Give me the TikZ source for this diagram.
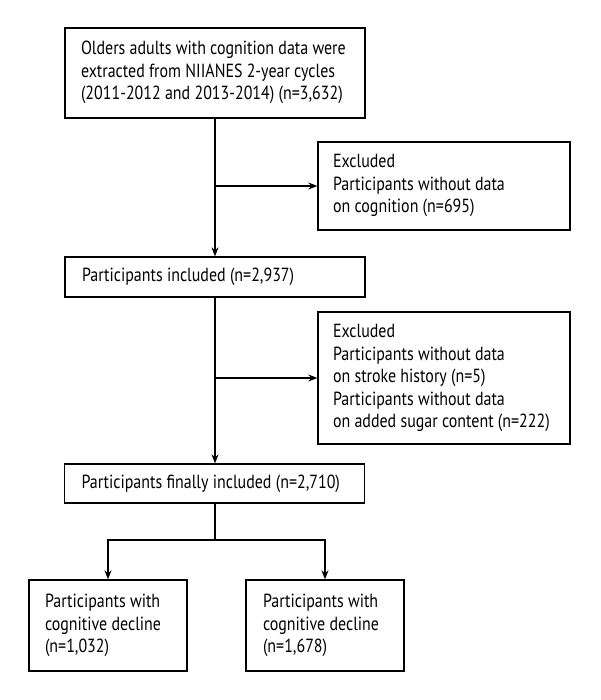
\documentclass[tikz,border=0pt]{standalone}
\usepackage{fontspec}
\usepackage{graphicx}
\setmainfont{PT Sans}
\usetikzlibrary{arrows.meta}
\newcommand\cnd[1]{\scalebox{0.84}[1]{\begin{tabular}{@{}l@{}}#1\end{tabular}}}
\newcommand\bx[3]{\makebox[#1][l]{\hspace{#2}\cnd{#3}}}
\begin{document}
\begin{tikzpicture}[x=1pt,y=-1pt,
  box/.style={draw, line width=1.3pt, rectangle, inner xsep=0pt, inner ysep=0pt,
    font=\fontsize{19}{22.5}\selectfont},
  arr/.style={line width=1.3pt, -{Stealth[length=9pt,width=7pt]}},
  ln/.style={line width=1.3pt}]
\useasboundingbox (0,0) rectangle (600,700);
\node[box, minimum width=300pt, minimum height=90pt] (top) at (215,73)
  {\bx{300pt}{16pt}{Olders adults with cognition data were\\extracted from NIIANES 2-year cycles\\(2011-2012 and 2013-2014) (n=3,632)}};
\node[box, minimum width=252pt, minimum height=88pt] (ex1) at (444,186)
  {\bx{252pt}{15pt}{Excluded\\Participants without data\\on cognition (n=695)}};
\node[box, minimum width=300pt, minimum height=40pt] (inc) at (215,277)
  {\bx{300pt}{17pt}{Participants included (n=2,937)}};
\node[box, minimum width=252pt, minimum height=132pt] (ex2) at (444,378)
  {\bx{252pt}{15pt}{Excluded\\Participants without data\\on stroke history (n=5)\\Participants without data\\on added sugar content (n=222)}};
\node[box, minimum width=300pt, minimum height=39pt] (fin) at (214.5,483.5)
  {\bx{300pt}{17pt}{Participants finally included (n=2,710)}};
\node[box, minimum width=158pt, minimum height=91pt] (bl) at (108,625.5)
  {\bx{158pt}{16pt}{Participants with\\cognitive decline\\(n=1,032)}};
\node[box, minimum width=158pt, minimum height=91pt] (br) at (325,625.5)
  {\bx{158pt}{17pt}{Participants with\\cognitive decline\\(n=1,678)}};
\coordinate (split) at (215,540);
\draw[arr] (top.south) -- (inc.north);
\draw[arr] (top.south |- ex1.west) -- (ex1.west);
\draw[arr] (inc.south) -- (inc.south |- fin.north);
\draw[arr] (inc.south |- ex2.west) -- (ex2.west);
\draw[ln] (inc.south |- fin.south) -- (split);
\draw[arr] (split) -| (bl.north);
\draw[arr] (split) -| (br.north);
\end{tikzpicture}
\end{document}
